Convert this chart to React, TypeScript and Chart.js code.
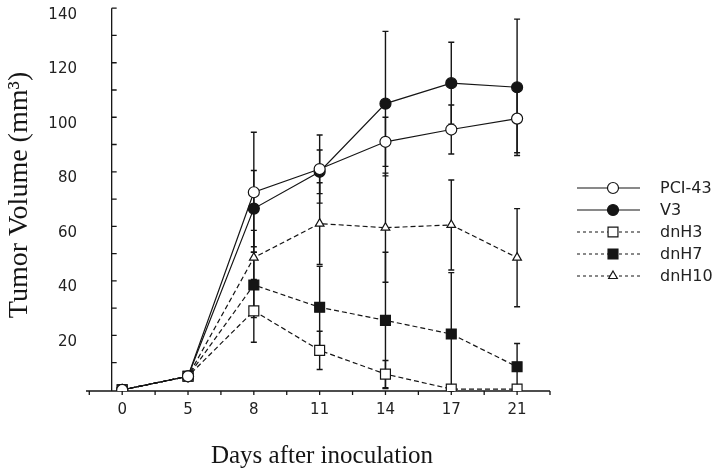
import React, { useEffect, useRef } from 'react';
import { Chart, registerables } from 'chart.js';
Chart.register(...registerables);

// Categories (days after inoculation), equally spaced on the axis
const dayLabels = ['0', '5', '8', '11', '14', '17', '21'];
const yTickValues = [20, 40, 60, 80, 100, 120, 140];
const seriesNames = ['PCI-43', 'V3', 'dnH3', 'dnH7', 'dnH10'];

// Tumor volume means (mm3) and error half-widths
const pci43 = [0, 5, 72.5, 81, 91, 95.5, 99.5];
const pci43Err = [0, 0, 22, 12.5, 9, 9, 12.5];
const v3 = [0, 5, 66.5, 80, 105, 112.5, 111];
const v3Err = [0, 0, 14, 8, 26.5, 15, 25];
const dnH3 = [0, 5, 29, 14.5, 5.8, 0.3, 0.3];
const dnH3Err = [0, 0, 11.5, 7, 5, 0, 0];
const dnH7 = [0, 5, 38.5, 30.3, 25.5, 20.5, 8.5];
const dnH7Err = [0, 0, 12, 15, 25, 22.5, 8.5];
const dnH10 = [0, 5, 48.5, 61, 59.5, 60.5, 48.5];
const dnH10Err = [0, 0, 10, 15, 20, 16.5, 18];

const Y_MIN = -0.4;
const Y_MAX = 140;
const X_MIN = -0.55;
const X_MAX = 6.5;
const Y_AXIS_AT = -0.16;
const INK = '#151515';

type Style = { point: 'circle' | 'rect' | 'triangle'; fill: string; radius: number; dash: number[] };
const styles: Style[] = [
  { point: 'circle', fill: '#ffffff', radius: 5.5, dash: [] },
  { point: 'circle', fill: INK, radius: 5.5, dash: [] },
  { point: 'rect', fill: '#ffffff', radius: 7, dash: [5, 3] },
  { point: 'rect', fill: INK, radius: 7, dash: [5, 3] },
  { point: 'triangle', fill: '#ffffff', radius: 5, dash: [5, 3] },
];

function drawMarker(ctx: CanvasRenderingContext2D, s: Style, x: number, y: number) {
  ctx.save();
  ctx.setLineDash([]);
  ctx.beginPath();
  const r = s.radius;
  if (s.point === 'circle') {
    ctx.arc(x, y, r, 0, Math.PI * 2);
  } else if (s.point === 'rect') {
    const h = r * Math.SQRT1_2;
    ctx.rect(x - h, y - h, 2 * h, 2 * h);
  } else {
    ctx.moveTo(x, y - r);
    ctx.lineTo(x + r * Math.sin((2 * Math.PI) / 3), y - r * Math.cos((2 * Math.PI) / 3));
    ctx.lineTo(x + r * Math.sin((4 * Math.PI) / 3), y - r * Math.cos((4 * Math.PI) / 3));
    ctx.closePath();
  }
  ctx.fillStyle = s.fill;
  ctx.fill();
  ctx.strokeStyle = INK;
  ctx.lineWidth = 1.2;
  ctx.stroke();
  ctx.restore();
}

const customPlugin = {
  id: 'custom',
  beforeDatasetsDraw(chart: any) {
    const { ctx, chartArea } = chart;
    const xs = chart.scales.x;
    const ys = chart.scales.y;
    ctx.save();
    ctx.strokeStyle = INK;
    ctx.lineWidth = 1.3;
    ctx.setLineDash([]);
    // x axis
    const by = chartArea.bottom;
    ctx.beginPath();
    ctx.moveTo(chartArea.left, by);
    ctx.lineTo(chartArea.right, by);
    for (let k = -1; k <= 13; k++) {
      const px = xs.getPixelForValue(k / 2);
      ctx.moveTo(px, by);
      ctx.lineTo(px, by + 4);
    }
    // y axis
    const ax = xs.getPixelForValue(Y_AXIS_AT);
    ctx.moveTo(ax, ys.getPixelForValue(Y_MAX));
    ctx.lineTo(ax, by);
    for (let v = 10; v <= Y_MAX; v += 10) {
      const py = ys.getPixelForValue(v);
      ctx.moveTo(ax, py);
      ctx.lineTo(ax + 5, py);
    }
    ctx.stroke();

    // error bars
    ctx.lineWidth = 1.4;
    chart.data.datasets.forEach((ds: any) => {
      ds.data.forEach((p: any, j: number) => {
        const e = ds.errors[j];
        if (!e) return;
        const px = xs.getPixelForValue(p.x);
        const y1 = ys.getPixelForValue(Math.min(Y_MAX, p.y + e));
        const y2 = ys.getPixelForValue(Math.max(Y_MIN, p.y - e));
        ctx.beginPath();
        ctx.moveTo(px, y1);
        ctx.lineTo(px, y2);
        ctx.moveTo(px - 3, y1);
        ctx.lineTo(px + 3, y1);
        ctx.moveTo(px - 3, y2);
        ctx.lineTo(px + 3, y2);
        ctx.stroke();
      });
    });
    ctx.restore();
  },
  afterDraw(chart: any) {
    const { ctx, chartArea } = chart;
    ctx.save();
    ctx.fillStyle = INK;
    // y title
    ctx.font = '28px "Liberation Serif", "Times New Roman", serif';
    ctx.textAlign = 'center';
    ctx.textBaseline = 'middle';
    ctx.save();
    ctx.translate(20, 195);
    ctx.rotate(-Math.PI / 2);
    ctx.fillText('Tumor Volume (mm³)', 0, 0);
    ctx.restore();
    // x title
    ctx.font = '25px "Liberation Serif", "Times New Roman", serif';
    ctx.textBaseline = 'alphabetic';
    ctx.fillText('Days after inoculation', 322, 463);

    // legend
    ctx.font = '16px "DejaVu Sans", sans-serif';
    ctx.textAlign = 'left';
    ctx.textBaseline = 'middle';
    seriesNames.forEach((name, i) => {
      const s = styles[i];
      const ly = 188 + i * 22;
      ctx.save();
      ctx.strokeStyle = INK;
      ctx.lineWidth = 1.2;
      ctx.setLineDash(s.dash.length ? [3, 3] : []);
      ctx.beginPath();
      ctx.moveTo(577, ly);
      ctx.lineTo(640, ly);
      ctx.stroke();
      ctx.restore();
      drawMarker(ctx, s, 613, ly);
      ctx.fillStyle = '#222';
      ctx.fillText(name, 660, ly + 1);
    });
    ctx.restore();
  },
};

export default function App() {
  const ref = useRef<HTMLCanvasElement>(null);
  useEffect(() => {
    document.body.style.margin = '0';
    const canvas = ref.current!;
    const values = [pci43, v3, dnH3, dnH7, dnH10];
    const errors = [pci43Err, v3Err, dnH3Err, dnH7Err, dnH10Err];
    const datasets = seriesNames.map((name, i) => ({
      label: name,
      data: values[i].map((v, j) => ({ x: j, y: v })),
      errors: errors[i],
      borderColor: INK,
      borderWidth: 1.2,
      borderDash: styles[i].dash,
      pointStyle: styles[i].point,
      pointRadius: styles[i].radius,
      pointBackgroundColor: styles[i].fill,
      pointBorderColor: INK,
      pointBorderWidth: 1.2,
      tension: 0,
      fill: false,
    }));
    const tickFont = { family: '"DejaVu Sans", sans-serif', size: 15 };
    const chart = new Chart(canvas, {
      type: 'line',
      data: { datasets } as any,
      options: {
        animation: false,
        responsive: true,
        maintainAspectRatio: false,
        layout: { padding: { top: 5, right: 170, left: 0, bottom: 0 } },
        plugins: { legend: { display: false }, tooltip: { enabled: false } },
        scales: {
          x: {
            type: 'linear',
            min: X_MIN,
            max: X_MAX,
            afterBuildTicks: (s: any) => {
              s.ticks = dayLabels.map((_, i) => ({ value: i }));
            },
            ticks: {
              callback: (v: any) => dayLabels[Math.round(Number(v))] ?? '',
              autoSkip: false,
              maxRotation: 0,
              padding: 10,
              font: tickFont,
              color: '#222',
            },
            grid: { display: false, drawTicks: false },
            border: { display: false },
            afterFit: (s: any) => {
              s.height = 83;
              s.paddingLeft = 0;
              s.paddingRight = 0;
            },
          },
          y: {
            type: 'linear',
            min: Y_MIN,
            max: Y_MAX,
            afterBuildTicks: (s: any) => {
              s.ticks = yTickValues.map((v) => ({ value: v }));
            },
            ticks: {
              labelOffset: 6.5,
              padding: 9,
              font: tickFont,
              color: '#222',
            },
            grid: { display: false, drawTicks: false },
            border: { display: false },
            afterFit: (s: any) => {
              s.width = 86;
              s.paddingTop = 0;
              s.paddingBottom = 0;
            },
          },
        },
      } as any,
      plugins: [customPlugin],
    });
    return () => chart.destroy();
  }, []);
  return (
    <div style={{ width: 720, height: 474, position: 'relative' }}>
      <canvas ref={ref} />
    </div>
  );
}
